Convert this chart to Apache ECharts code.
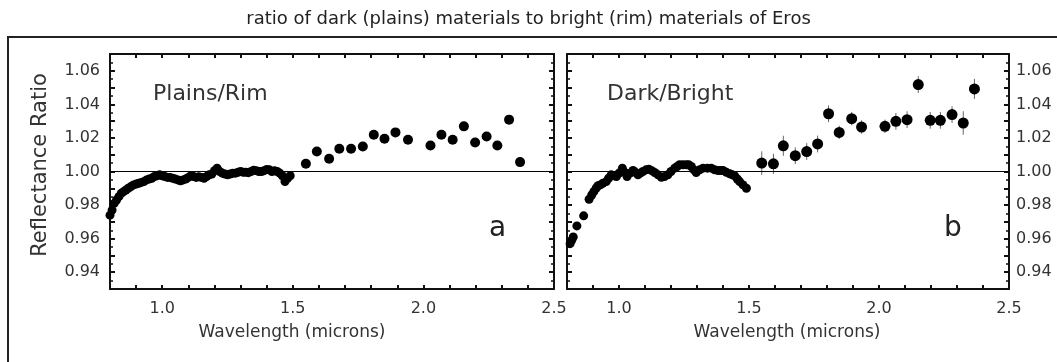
<!DOCTYPE html>
<html>
<head>
<meta charset="utf-8">
<script src="https://cdn.jsdelivr.net/npm/echarts@6/dist/echarts.min.js"></script>
<style>
html, body { margin: 0; padding: 0; background: #fff; }
#echart { width: 1057px; height: 362px; }
</style>
</head>
<body>
<div id="echart"></div>
<script>
// panel a: Plains/Rim
var plainsDenseX = [0.800,0.808,0.816,0.825,0.834,0.843,0.852,0.861,0.870,0.880,0.890,0.900,0.910,0.920,0.930,0.940,0.950,0.960,0.970,0.980,0.990,1.000,1.010,1.020,1.030,1.040,1.050,1.060,1.070,1.080,1.090,1.100,1.110,1.120,1.130,1.140,1.150,1.160,1.170,1.180,1.190,1.200,1.210,1.220,1.230,1.240,1.250,1.260,1.270,1.280,1.290,1.300,1.310,1.320,1.330,1.340,1.350,1.360,1.370,1.380,1.390,1.400,1.410,1.420,1.430,1.440,1.450,1.460,1.470,1.480,1.490];
var plainsDenseY = [0.974,0.977,0.981,0.983,0.985,0.987,0.988,0.989,0.990,0.991,0.992,0.9925,0.993,0.9935,0.994,0.995,0.9955,0.996,0.997,0.9975,0.998,0.9975,0.997,0.9965,0.9965,0.996,0.9955,0.995,0.9945,0.995,0.9955,0.9965,0.9975,0.997,0.9965,0.9968,0.9965,0.996,0.997,0.998,0.9985,1.0005,1.002,1.000,0.999,0.9985,0.998,0.9985,0.999,0.999,0.9995,1.000,0.9995,0.9995,0.9993,1.000,1.0008,1.0005,1.000,1.000,1.0005,1.0012,1.001,1.000,1.0005,1.000,0.999,0.9975,0.994,0.996,0.9975];
var plainsSparseX = [1.550,1.592,1.639,1.678,1.723,1.768,1.810,1.851,1.893,1.941,2.027,2.069,2.112,2.155,2.198,2.242,2.283,2.328,2.370];
var plainsSparseY = [1.0046,1.0119,1.0076,1.0135,1.0135,1.0149,1.0219,1.0195,1.0233,1.0189,1.0155,1.0219,1.0189,1.0269,1.0173,1.0209,1.0155,1.0309,1.0056];

// panel b: Dark/Bright
var darkDenseX = [0.812,0.818,0.824,0.838,0.864,0.885,0.895,0.903,0.912,0.919,0.928,0.938,0.951,0.960,0.970,0.980,0.990,1.000,1.013,1.022,1.031,1.042,1.054,1.063,1.073,1.082,1.092,1.104,1.115,1.126,1.137,1.150,1.163,1.175,1.188,1.200,1.214,1.224,1.233,1.246,1.259,1.268,1.278,1.288,1.297,1.310,1.323,1.340,1.355,1.368,1.381,1.392,1.400,1.413,1.426,1.436,1.445,1.455,1.464,1.477,1.490];
var darkDenseY = [0.957,0.959,0.961,0.9676,0.9736,0.9835,0.986,0.988,0.990,0.9915,0.992,0.993,0.994,0.996,0.998,0.9975,0.997,0.999,1.002,0.9995,0.997,0.999,1.0006,0.9995,0.998,0.999,1.000,1.001,1.0014,1.0005,0.9994,0.998,0.9966,0.997,0.998,1.000,1.002,1.003,1.004,1.004,1.004,1.004,1.003,1.001,0.9994,1.001,1.002,1.002,1.002,1.001,1.0006,1.0006,1.0006,0.9995,0.9986,0.998,0.9974,0.9955,0.994,0.992,0.990];
var darkSparseX = [1.549,1.594,1.632,1.678,1.722,1.764,1.806,1.847,1.895,1.933,2.023,2.065,2.108,2.151,2.197,2.236,2.281,2.324,2.367];
var darkSparseY = [1.005,1.0046,1.0153,1.0094,1.0119,1.0164,1.0344,1.0233,1.0315,1.0265,1.0269,1.0299,1.0309,1.0518,1.0305,1.0305,1.0339,1.0289,1.0492];
var darkSparseErr = [0.007,0.006,0.006,0.005,0.005,0.005,0.005,0.004,0.004,0.004,0.004,0.005,0.005,0.005,0.005,0.005,0.005,0.007,0.006];

var xTickLabels = ['1.0','1.5','2.0','2.5'];
var yTickLabels = ['0.94','0.96','0.98','1.00','1.02','1.04','1.06'];

var FONT = 'DejaVu Sans';

function pairs(xs, ys, es) {
	var out = [];
	for (var i = 0; i < xs.length; i++) {
		out.push(es ? [xs[i], ys[i], es[i]] : [xs[i], ys[i]]);
	}
	return out;
}

function xAx(grid, pos, labels) {
	return {
		type: 'value', gridIndex: grid, position: pos,
		min: 0.8, max: 2.5, interval: 0.1,
		axisLine: { show: true, onZero: false, lineStyle: { color: '#111', width: 2 } },
		axisTick: { show: true, inside: true, length: 4, lineStyle: { color: '#111', width: 2 } },
		axisLabel: {
			show: labels, margin: 12, color: '#333', fontFamily: FONT, fontSize: 16,
			formatter: function (v) {
				var s = v.toFixed(1);
				return xTickLabels.indexOf(s) >= 0 ? s : '';
			}
		},
		splitLine: { show: false }
	};
}

function yAx(grid, pos, labels) {
	return {
		type: 'value', gridIndex: grid, position: pos,
		min: 0.93, max: 1.07, interval: 0.01,
		axisLine: { show: true, onZero: false, lineStyle: { color: '#111', width: 2 } },
		axisTick: { show: true, inside: true, length: 5, lineStyle: { color: '#111', width: 2 } },
		minorTick: { show: true, splitNumber: 2, length: 3, lineStyle: { color: '#111', width: 1.5 } },
		axisLabel: {
			show: labels, margin: pos == 'left' ? 10 : 7, color: '#333', fontFamily: FONT, fontSize: 16,
			formatter: function (v) {
				var s = v.toFixed(2);
				return yTickLabels.indexOf(s) >= 0 ? s : '';
			}
		},
		splitLine: { show: false }
	};
}

var unityLine = {
	silent: true, symbol: 'none', animation: false,
	label: { show: false },
	lineStyle: { color: '#000', width: 1, type: 'solid' },
	data: [{ yAxis: 1 }]
};

function errorBar(params, api) {
	var x = api.value(0), y = api.value(1), e = api.value(2);
	var p1 = api.coord([x, y - e]);
	var p2 = api.coord([x, y + e]);
	return {
		type: 'line',
		shape: { x1: p1[0], y1: p1[1], x2: p2[0], y2: p2[1] },
		style: { stroke: '#666', lineWidth: 1 }
	};
}

var dom = document.getElementById('echart');
var myChart = echarts.init(dom);
var option = {
	animation: false,
	backgroundColor: '#fff',
	title: {
		text: 'ratio of dark (plains) materials to bright (rim) materials of Eros',
		left: 'center', top: 5,
		textStyle: { fontFamily: FONT, fontSize: 18, fontWeight: 'normal', color: '#222' }
	},
	grid: [
		{ left: 110, top: 54, width: 444, height: 235 },
		{ left: 567, top: 54, width: 442, height: 235 }
	],
	xAxis: [xAx(0, 'bottom', true), xAx(0, 'top', false), xAx(1, 'bottom', true), xAx(1, 'top', false)],
	yAxis: [yAx(0, 'left', true), yAx(0, 'right', false), yAx(1, 'left', false), yAx(1, 'right', true)],
	graphic: [
		{ type: 'rect', z: -1, shape: { x: 8, y: 37, width: 1100, height: 400 },
		  style: { fill: 'none', stroke: '#222', lineWidth: 2 } },
		{ type: 'text', x: 41, y: 165, rotation: Math.PI / 2,
		  style: { text: 'Reflectance Ratio', font: '21px "DejaVu Sans"', fill: '#333', align: 'center', verticalAlign: 'middle' } },
		{ type: 'text', x: 292, y: 333,
		  style: { text: 'Wavelength (microns)', font: '17px "DejaVu Sans"', fill: '#333', align: 'center', verticalAlign: 'middle' } },
		{ type: 'text', x: 787, y: 333,
		  style: { text: 'Wavelength (microns)', font: '17px "DejaVu Sans"', fill: '#333', align: 'center', verticalAlign: 'middle' } },
		{ type: 'text', x: 153, y: 94,
		  style: { text: 'Plains/Rim', font: '22px "DejaVu Sans"', fill: '#333', align: 'left', verticalAlign: 'middle' } },
		{ type: 'text', x: 607, y: 94,
		  style: { text: 'Dark/Bright', font: '22px "DejaVu Sans"', fill: '#333', align: 'left', verticalAlign: 'middle' } },
		{ type: 'text', x: 489, y: 229,
		  style: { text: 'a', font: '28px "DejaVu Sans"', fill: '#222', align: 'left', verticalAlign: 'middle' } },
		{ type: 'text', x: 944, y: 229,
		  style: { text: 'b', font: '28px "DejaVu Sans"', fill: '#222', align: 'left', verticalAlign: 'middle' } }
	],
	series: [
		{ name: 'Plains/Rim', type: 'scatter', xAxisIndex: 0, yAxisIndex: 0, symbol: 'circle', symbolSize: 9,
		  itemStyle: { color: '#000', opacity: 1 }, data: pairs(plainsDenseX, plainsDenseY), markLine: unityLine },
		{ name: 'Plains/Rim long', type: 'scatter', xAxisIndex: 0, yAxisIndex: 0, symbol: 'circle', symbolSize: 10,
		  itemStyle: { color: '#000', opacity: 1 }, data: pairs(plainsSparseX, plainsSparseY) },
		{ name: 'Dark/Bright', type: 'scatter', xAxisIndex: 2, yAxisIndex: 2, symbol: 'circle', symbolSize: 9,
		  itemStyle: { color: '#000', opacity: 1 }, data: pairs(darkDenseX, darkDenseY), markLine: unityLine },
		{ name: 'Dark/Bright err', type: 'custom', xAxisIndex: 2, yAxisIndex: 2, renderItem: errorBar,
		  encode: { x: 0, y: 1 }, data: pairs(darkSparseX, darkSparseY, darkSparseErr), z: 1 },
		{ name: 'Dark/Bright long', type: 'scatter', xAxisIndex: 2, yAxisIndex: 2, symbol: 'circle', symbolSize: 11,
		  itemStyle: { color: '#000', opacity: 1 }, data: pairs(darkSparseX, darkSparseY), z: 3 }
	]
};
myChart.setOption(option, true);
</script>
</body>
</html>
